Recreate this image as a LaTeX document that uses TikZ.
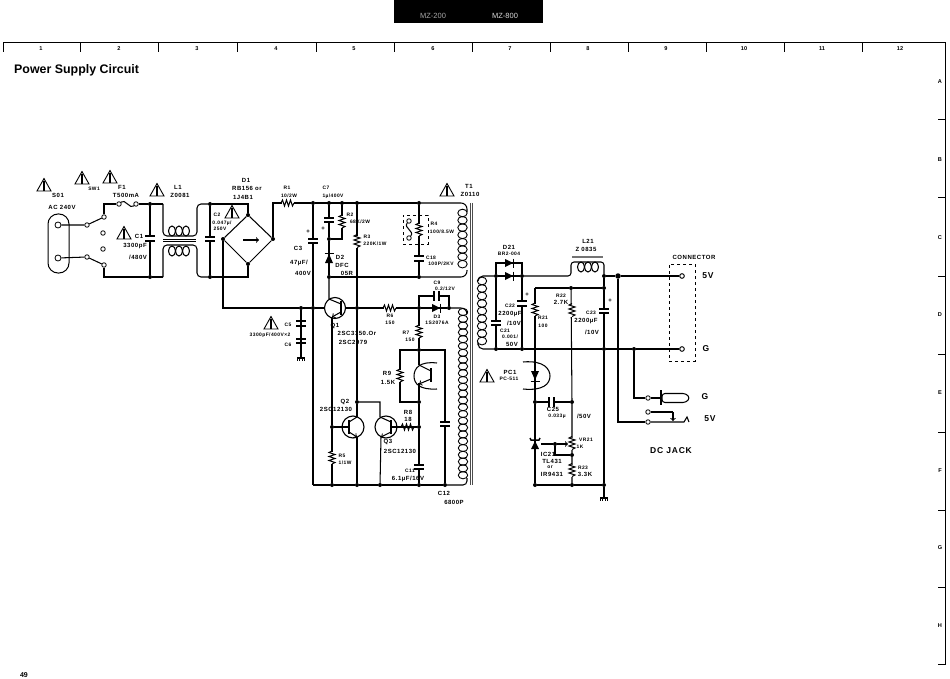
\documentclass[tikz,border=0pt]{standalone}
\usepackage{fontspec}
\setmainfont{Liberation Sans}
\newfontfamily\widefont[LetterSpace=9]{Liberation Sans}
\usetikzlibrary{arrows, shapes.geometric}

\tikzset{
  wire/.style = {line width=1.05pt},
  jdot/.style = {circle, fill, inner sep=0, minimum size=4pt},
  bigdot/.style = {circle, fill, inner sep=0, minimum size=5.5pt},
  term/.style = {circle, draw, fill=white, line width=0.8pt, inner sep=0, minimum size=4.5pt},
  lab/.style = {inner sep=0, font=\fontsize{6}{7}\widefont\bfseries},
  labs/.style = {inner sep=0, font=\fontsize{4.9}{5}\widefont\bfseries},
  labb/.style = {inner sep=0, font=\fontsize{8.5}{9}\widefont\bfseries},
  grid/.style = {inner sep=0, font=\fontsize{5.6}{6}\selectfont\bfseries},
  pics/resv/.style = {code={
    \fill [white] (-2, -6) rectangle (2, 6);
    \draw [wire] (0, -7) -- (-3, -5.5) -- (3, -3.5) -- (-3, -1.5) -- (3, 0.5) -- (-3, 2.5) -- (3, 4.5) -- (0, 6);
  }},
  pics/resh/.style = {code={
    \fill [white] (-6, -2) rectangle (6, 2);
    \draw [wire] (-7, 0) -- (-5.5, -3) -- (-3.5, 3) -- (-1.5, -3) -- (0.5, 3) -- (2.5, -3) -- (4.5, 3) -- (6, 0);
  }},
  pics/capv/.style = {code={
    \fill [white] (-5, -1.5) rectangle (5, 1.5);
    \draw [line width=1.9pt] (-5, -2.2) -- (5, -2.2);
    \draw [line width=1.9pt] (-5, 2.2) -- (5, 2.2);
  }},
  pics/caph/.style = {code={
    \fill [white] (-1.5, -5) rectangle (1.5, 5);
    \draw [line width=1.9pt] (-2.2, -5) -- (-2.2, 5);
    \draw [line width=1.9pt] (2.2, -5) -- (2.2, 5);
  }},
  pics/dioder/.style = {code={
    \fill (-5, -4) -- (3, 0) -- (-5, 4) -- cycle;
    \draw [line width=1.5pt] (3.5, -4.5) -- (3.5, 4.5);
  }},
  pics/diodeu/.style = {code={
    \fill (-4, 5) -- (0, -4) -- (4, 5) -- cycle;
    \draw [line width=1.5pt] (-4.5, -4.5) -- (4.5, -4.5);
  }},
  pics/warn/.style = {code={
    \draw [line width=0.9pt, line join=miter] (-7, 6) -- (0, -6.5) -- (7, 6) -- cycle;
    \draw [line width=1.2pt] (0, -4) -- (0, 6);
  }},
  pics/gnd/.style = {code={
    \draw [line width=1.3pt] (-4, 0) -- (4, 0);
    \foreach \gx in {-3.5, -1.2, 1.2, 3.5}
      \draw [line width=0.7pt] (\gx, 0) -- (\gx, 2.5);
  }},
}

\begin{document}
\begin{tikzpicture}[x=1pt, y=-1pt]
  \useasboundingbox (0, 0) rectangle (950, 679);

  % header and frame
  \fill (394, 0) rectangle (543, 23);
  \node [grid, font=\fontsize{7.5}{8}\selectfont, text=white!65!black] (model200) at (433, 16) {MZ-200};
  \node [grid, font=\fontsize{7.5}{8}\selectfont, text=white!85!black] (model800) at (505, 16) {MZ-800};
  \draw [line width=1pt] (3, 52) -- (3, 43) -- (945, 43) -- (945, 664) -- (938, 664);
  \foreach \x in {80, 158, 237, 316, 394, 472, 550, 628, 706, 784, 862}
    \draw [line width=1pt] (\x, 43) -- (\x, 52);
  \foreach \y in {120, 198, 276, 354, 432, 510, 587}
    \draw [line width=1pt] (938, \y) -- (945, \y);
  \foreach \n/\x in {1/41, 2/119, 3/197, 4/276, 5/354, 6/433, 7/510, 8/588, 9/666, 10/744, 11/822, 12/900}
    \node [grid] (col\n) at (\x, 48.5) {\n};
  \foreach \n/\y in {A/82, B/160, C/238, D/315, E/393, F/471, G/548, H/626}
    \node [grid] (row\n) at (940, \y) {\n};
  \node [inner sep=0, anchor=west, font=\fontsize{12.4}{14}\selectfont\bfseries] (title) at (14, 70) {Power Supply Circuit};
  \node [grid, font=\fontsize{7}{8}\selectfont\bfseries] (pageno) at (24, 675) {49};

  % junctions
  \foreach \n/\x/\y in {c1a/150/204, c1b/150/277, c2a/210/204, c2b/210/277, brt/248/215, brb/248/264, brl/223/239, brr/273/239,
      ra/313/203, rb/329/203, rc/342/203, rd/357/203, re/419/203, ce/329/239, mb/329/277, mr/419/277,
      ga/301/308, gb/313/308, gc/357/308, gd/419/308, ge/449/308, ha/419/350, hb/419/402, hc/357/402, hd/419/427, he/332/427,
      ba/332/485, bb/357/485, bc/380/485, bd/419/485, bf/445/485,
      sa/496/276, sb/522/276, sc/604/276, ta/496/349, tb/522/349, tc/604/349, td/634/349,
      ua/571/288, ub/604/288, va/535/402, vb/572/402, vc/555/444, vd/572/455, wa/535/485, wb/572/485, wc/604/485}
    \node [jdot] (\n) at (\x, \y) {};
  \node [bigdot] (se) at (618, 276) {};

  % terminals
  \foreach \n/\x/\y in {swa/87/225, swb/104/217, swc/103/233, swd/103/249, swe/104/265, swf/87/257,
      fua/119/204, fub/136/204, tha/409/221, thb/409/238, cna/682/276, cnb/682/349, jka/648/398, jkb/648/412, jkc/648/422}
    \node [term] (\n) at (\x, \y) {};

  % corners
  \coordinate (fcor) at (104, 204);
  \coordinate (lcor) at (104, 277);
  \coordinate (c1d) at (163, 204);
  \coordinate (c1e) at (163, 277);
  \coordinate (lua) at (163, 236);
  \coordinate (lub) at (197, 236);
  \coordinate (lua2) at (197, 204);
  \coordinate (lla) at (163, 245);
  \coordinate (llb) at (197, 245);
  \coordinate (lla2) at (197, 277);
  \coordinate (r1cor) at (273, 203);
  \coordinate (brlc) at (223, 308);
  \coordinate (recor) at (342, 239);
  \coordinate (q1c) at (329, 299);
  \coordinate (q1e) at (332, 317);
  \coordinate (botl) at (313, 485);
  \coordinate (c9l) at (419, 296);
  \coordinate (c9r) at (449, 296);

  % primary side
  \node [draw, line width=1pt, rounded corners=10pt, minimum width=21pt, minimum height=59pt, inner sep=0] (socket) at (58.5, 243.5) {};
  \node [term, minimum size=6pt] (pina) at (58, 225) {};
  \node [term, minimum size=6pt] (pinb) at (58, 258) {};
  \draw [wire] (pina) -- (swa) -- (swb);
  \draw [wire] (pinb) -- (swf) -- (swe);
  \draw [wire] (swb) -- (fcor) -- (fua);
  \draw [wire] (swe) -- (lcor) -- (c1b);
  \draw [wire] (fua) .. controls (125, 198) and (130, 210) .. (fub);
  \draw [wire] (fub) -- (c1a) -- (c1d);
  \draw [wire] (c1a) -- (c1b) -- (c1e);
  \draw [wire, rounded corners=4pt] (c1d) -- (lua) -- (lub) -- (lua2) -- (c2a);
  \draw [wire, rounded corners=4pt] (c1e) -- (lla) -- (llb) -- (lla2) -- (c2b);
  \foreach \x in {172, 179, 186} {
    \draw [wire] (\x, 231) ellipse (3.5 and 5);
    \draw [wire] (\x, 251) ellipse (3.5 and 5);
  }
  \draw [line width=0.8pt] (163, 239.3) -- (196, 239.3);
  \draw [line width=0.8pt] (163, 241.6) -- (196, 241.6);
  \draw [wire] (c2a) -- (c2b);
  \draw [wire] (c2a) -| (brt);
  \draw [wire] (c2b) -| (brb);
  \draw [wire] (brt) -- (brr) -- (brb) -- (brl) -- (brt);
  \draw [wire, ->] (243, 240) -- (259, 240);
  \draw [wire] (brl) -- (brlc) -- (ga);
  \draw [wire] (brr) -- (r1cor) -- (ra);
  \pic at (150, 238.5) {capv};
  \pic at (210, 239) {capv};
  \pic at (288, 203) {resh};

  % primary rail and T1
  \draw [wire] (ra) -- (re);
  \draw [wire, rounded corners=6pt] (re) -- (467, 203) -- (467, 212);
  \foreach \y in {213, 220.3, ..., 270}
    \draw [line width=0.9pt] (462.5, \y) ellipse (4.7 and 3.8);
  \foreach \x in {470.4, 472.6}
    \draw [line width=0.9pt, black!70] (\x, 203) -- (\x, 485);
  \draw [wire] (ra) -- (gb) -- (botl);
  \draw [wire] (rb) -- (ce) -- (mb);
  \draw [wire] (rc) -- (recor) -- (ce);
  \draw [wire] (rd) -- (gc) -- (hc) -- (357, 417);
  \draw [wire] (mb) -- (mr);
  \draw [wire, rounded corners=6pt] (mr) -- (467, 277) -- (467, 270);
  \draw [wire] (re) -- (mr);
  \pic at (329, 220) {capv};
  \node [inner sep=0, font=\bfseries\fontsize{6}{6}\selectfont] (plusa) at (323, 229) {+};
  \pic at (342, 222) {resv};
  \pic at (329, 258) {diodeu};
  \pic at (357, 241.5) {resv};
  \pic at (313, 241) {capv};
  \node [inner sep=0, font=\bfseries\fontsize{6}{6}\selectfont] (plusb) at (308, 232) {+};
  \node [draw, dashed, line width=0.8pt, minimum width=25pt, minimum height=29pt, inner sep=0] (relbox) at (415.5, 229.5) {};
  \draw [wire] (tha) .. controls (403, 228) and (415, 231) .. (thb);
  \pic at (419, 230) {resv};
  \pic at (419, 258.5) {capv};

  % Q1 row
  \draw [wire] (ga) -- (gb);
  \node [circle, draw, line width=1.1pt, minimum size=21pt, inner sep=0] (Qa) at (335, 308) {};
  \draw [wire] (gb) -- (Qa.west);
  \draw [wire] (Qa.east) -- (gc) -- (gd) -- (ge);
  \draw [wire, rounded corners=6pt] (ge) -- (467, 308) -- (467, 312);
  \draw [line width=2pt] (341, 301) -- (341, 315);
  \draw [wire] (mb) -- (q1c) -- (341, 304);
  \draw [wire, ->] (341, 312) -- (q1e);
  \draw [wire] (q1e) -- (he) -- (ba);
  \draw [wire] (gd) -- (c9l) -- (c9r) -- (ge);
  \pic at (436.5, 296) {caph};
  \pic at (437, 308) {dioder};
  \pic at (390, 308) {resh};
  \pic at (301, 323.5) {capv};
  \pic at (301, 341) {capv};
  \draw [wire] (ga) -- (301, 358);
  \pic at (301, 358) {gnd};

  % feedback part
  \draw [wire] (gd) -- (ha) -- (445, 350) -- (bf);
  \draw [wire] (ha) -- (400, 350) -- (400, 402) -- (hb);
  \draw [wire] (ha) -- (419, 365);
  \draw [wire] (hb) -- (hd) -- (bd);
  \draw [wire] (hb) -- (419, 383);
  \draw [line width=2pt] (431, 368) -- (431, 382);
  \draw [wire] (419, 365) -- (431, 371);
  \draw [wire, ->] (431, 379) -- (419, 384);
  \draw [wire] (437, 363) .. controls (420, 361) and (414, 368) .. (414, 376) .. controls (414, 384) and (420, 390) .. (437, 389);
  \pic at (419, 332) {resv};
  \pic at (400, 376) {resv};
  \pic at (445, 424) {capv};
  \pic at (419, 467) {capv};
  \pic at (408, 427) {resh};
  \pic at (332, 458) {resv};

  % Q2 Q3
  \node [circle, draw, line width=1.1pt, minimum size=22pt, inner sep=0] (Qb) at (353, 427) {};
  \node [circle, draw, line width=1.1pt, minimum size=22pt, inner sep=0] (Qc) at (386, 427) {};
  \draw [wire] (he) -- (349, 427);
  \draw [line width=2pt] (349, 420) -- (349, 434);
  \draw [wire] (349, 422) -- (357, 417);
  \draw [wire, ->] (349, 432) -- (357, 437);
  \draw [wire] (357, 437) -- (bb);
  \draw [wire] (hd) -- (391, 427);
  \draw [line width=2pt] (391, 420) -- (391, 434);
  \draw [wire] (hc) -- (380, 402) -- (380, 417) -- (391, 422);
  \draw [wire, ->] (391, 432) -- (381, 437);
  \draw [wire] (381, 437) -- (bc);
  \draw [wire] (botl) -- (ba) -- (bb) -- (bc) -- (bd) -- (bf);
  \draw [wire, rounded corners=4pt] (bf) -- (467, 485) -- (467, 478);
  \foreach \y in {312, 318.8, ..., 480}
    \draw [line width=0.9pt] (463, \y) ellipse (4.7 and 3.6);

  % secondary side
  \foreach \y in {281, 288.5, ..., 345}
    \draw [line width=0.9pt] (482, \y) ellipse (4.7 and 3.9);
  \draw [wire, rounded corners=5pt] (sa) -- (478, 276) -- (478, 281);
  \draw [wire, rounded corners=5pt] (ta) -- (478, 349) -- (478, 345);
  \draw [wire] (sa) -- (496, 263) -- (522, 263) -- (sb);
  \draw [wire] (sa) -- (sb);
  \draw [wire] (sa) -- (ta);
  \draw [wire] (sb) -- (tb);
  \pic at (510, 263) {dioder};
  \pic at (510, 276) {dioder};
  \pic at (522, 303.5) {capv};
  \pic at (496, 323) {capv};
  \draw [wire, rounded corners=3pt] (sb) -- (571, 276) -- (571, 262) -- (604, 262) -- (sc);
  \foreach \x in {581, 588, 595}
    \draw [wire] (\x, 267) ellipse (3.5 and 5);
  \draw [line width=1.8pt, black!55] (572, 257) -- (603, 257);
  \draw [wire] (sc) -- (se) -- (cna);
  \draw [wire] (ta) -- (tb) -- (tc) -- (td) -- (cnb);
  \draw [wire] (sc) -- (ub) -- (tc) -- (wc);
  \draw [wire] (535, 288) -- (ua) -- (ub);
  \draw [wire] (535, 288) -- (va) -- (wa);
  \draw [wire] (ua) -- (vb) -- (vd) -- (wb);
  \draw [wire] (va) -- (vb);
  \draw [wire] (wa) -- (wb) -- (wc);
  \draw [wire] (wc) -- (604, 498);
  \pic at (604, 498) {gnd};
  \pic at (535, 310) {resv};
  \pic at (572, 310.5) {resv};
  \pic at (604, 311) {capv};
  \pic at (551.5, 402) {caph};
  \pic at (572, 443.5) {resv};
  \pic at (572, 470.5) {resv};
  \draw [wire, ->] (vc) -- (568, 444);
  \draw [wire] (vc) -- (541, 444);
  \draw [wire] (vc) |- (vd);

  % opto coupler and regulator
  \fill (531, 371) -- (539, 371) -- (535, 380) -- cycle;
  \draw [line width=1.5pt] (530.5, 381.5) -- (539.5, 381.5);
  \draw [wire] (523, 362) .. controls (545, 360) and (550, 370) .. (550, 376) .. controls (550, 384) and (543, 391) .. (523, 389);
  \fill (531, 449) -- (539, 449) -- (535, 441) -- cycle;
  \draw [line width=1.5pt] (530, 438) -- (531, 440) -- (539, 440) -- (540, 438);

  % output and dc jack
  \node [draw, dashed, line width=0.9pt, minimum width=26pt, minimum height=97pt, inner sep=0] (conn) at (682, 312.5) {};
  \node [term] (cna) at (682, 276) {};
  \node [term] (cnb) at (682, 349) {};
  \coordinate (jg) at (634, 398);
  \coordinate (j5) at (618, 422);
  \draw [wire] (se) -- (j5) -- (jkc);
  \draw [wire] (td) -- (jg) -- (jka);
  \draw [wire] (jka) -- (661, 398);
  \draw [wire, fill=white, rounded corners=3pt] (662, 393.5) -- (686, 393.5) -- (690, 398) -- (686, 402.5) -- (662, 402.5) -- cycle;
  \draw [line width=1.6pt] (661, 390) -- (661, 405);
  \draw [wire] (jkb) -- (673, 412);
  \draw [wire, ->] (673, 412) -- (673, 421);
  \draw [wire] (jkc) -- (684, 422) -- (687, 417) -- (689, 422);

  % warning marks
  \foreach \x/\y in {44/185, 82/178, 110/177, 157/190, 124/233, 232/212, 271/323, 447/190, 487/376}
    \pic at (\x, \y) {warn};

  % labels
  \node [lab] (tS) at (58, 195) {S01};
  \node [lab] (tAC) at (62, 207) {AC 240V};
  \node [labs] (tSW) at (94, 189) {SW1};
  \node [lab] (tF) at (122, 187) {F1};
  \node [lab] (tFb) at (126, 195) {T500mA};
  \node [lab] (tL) at (178, 187) {L1};
  \node [lab] (tLb) at (180, 195) {Z0081};
  \node [lab] (tC) at (139, 236) {C1};
  \node [lab] (tCb) at (135, 246) {3300pF};
  \node [lab] (tCc) at (138, 257) {/480V};
  \node [lab] (tD) at (246, 180) {D1};
  \node [lab] (tDb) at (247, 188) {RB156 or};
  \node [lab] (tDc) at (243, 197) {1J4B1};
  \node [labs] (tCd) at (217, 215) {C2};
  \node [labs] (tCe) at (222, 223) {0.047µ/};
  \node [labs] (tCf) at (220, 229) {250V};
  \node [labs] (tR) at (287, 188) {R1};
  \node [labs] (tRb) at (289, 196) {10/2W};
  \node [labs] (tCg) at (326, 188) {C7};
  \node [labs] (tCh) at (333, 196) {1µ/400V};
  \node [lab] (tCi) at (298, 248) {C3};
  \node [lab] (tCj) at (299, 263) {47µF/};
  \node [lab] (tCk) at (303, 273) {400V};
  \node [labs] (tRc) at (350, 215) {R2};
  \node [labs] (tRd) at (360, 222) {68K/2W};
  \node [labs] (tRe) at (367, 237) {R3};
  \node [labs] (tRf) at (375, 244) {220K/1W};
  \node [lab] (tDd) at (340, 257) {D2};
  \node [lab] (tDe) at (342, 265) {DFC};
  \node [lab] (tDf) at (347, 273) {05R};
  \node [labs] (tRg) at (434, 224) {R4};
  \node [labs] (tRh) at (442, 232) {100/8.5W};
  \node [labs] (tCl) at (431, 258) {C18};
  \node [labs] (tCm) at (441, 264) {100P/2KV};
  \node [lab] (tT) at (469, 186) {T1};
  \node [lab] (tTb) at (470, 194) {Z0110};
  \node [labs] (tCn) at (437, 283) {C9};
  \node [labs] (tCo) at (445, 289) {0.2/12V};
  \node [labs] (tRi) at (390, 316) {R6};
  \node [labs] (tRj) at (390, 323) {150};
  \node [labs] (tDg) at (437, 317) {D3};
  \node [labs] (tDh) at (437, 323) {1S2076A};
  \node [labs] (tRk) at (406, 333) {R7};
  \node [labs] (tRl) at (410, 340) {150};
  \node [lab] (tQ) at (335, 326) {Q1};
  \node [lab] (tQb) at (357, 333) {2SC3150.Or};
  \node [lab] (tQc) at (353, 342) {2SC2979};
  \node [labs] (tCp) at (288, 325) {C5};
  \node [labs] (tCq) at (270, 335) {3300pF/400V×2};
  \node [labs] (tCr) at (288, 345) {C6};
  \node [lab] (tRm) at (387, 373) {R9};
  \node [lab] (tRn) at (388, 382) {1.5K};
  \node [lab] (tQd) at (345, 402) {Q2};
  \node [lab] (tQe) at (336, 409) {2SC12130};
  \node [lab] (tQf) at (388, 442) {Q3};
  \node [lab] (tQg) at (400, 451) {2SC12130};
  \node [lab] (tRo) at (408, 412) {R8};
  \node [lab] (tRp) at (408, 419) {18};
  \node [labs] (tRq) at (342, 456) {R5};
  \node [labs] (tRr) at (345, 463) {1/1W};
  \node [labs] (tCs) at (410, 471) {C11};
  \node [lab] (tCt) at (408, 479) {6.1µF/16V};
  \node [lab] (tCu) at (444, 493) {C12};
  \node [lab] (tCv) at (454, 502) {6800P};
  \node [lab] (tDi) at (509, 247) {D21};
  \node [labs] (tDj) at (509, 254) {BR2-004};
  \node [lab] (tLc) at (588, 241) {L21};
  \node [lab] (tLd) at (586, 249) {Z 0835};
  \node [lab] (tCon) at (694, 257) {CONNECTOR};
  \node [labb] (tVa) at (708, 276) {5V};
  \node [labb] (tGa) at (706, 349) {G};
  \node [labb] (tGb) at (705, 397) {G};
  \node [labb] (tVb) at (710, 419) {5V};
  \node [labb] (tJack) at (671, 451) {DC JACK};
  \node [labs] (tCw) at (510, 306) {C22};
  \node [lab] (tCx) at (510, 314) {2200µF};
  \node [lab] (tCy) at (514, 323) {/10V};
  \node [labs] (tCz) at (505, 331) {C21};
  \node [labs] (tDa) at (510, 337) {0.001/};
  \node [lab] (tDk) at (512, 344) {50V};
  \node [labs] (tRs) at (543, 318) {R21};
  \node [labs] (tRt) at (543, 326) {100};
  \node [labs] (tRu) at (561, 296) {R22};
  \node [lab] (tRv) at (561, 302) {2.7K};
  \node [labs] (tEa) at (591, 313) {C23};
  \node [lab] (tEb) at (586, 321) {2200µF};
  \node [lab] (tEc) at (592, 332) {/10V};
  \node [inner sep=0, font=\bfseries\fontsize{6}{6}\selectfont] (plusc) at (527, 295) {+};
  \node [inner sep=0, font=\bfseries\fontsize{6}{6}\selectfont] (plusd) at (610, 301) {+};
  \node [lab] (tPa) at (510, 372) {PC1};
  \node [labs] (tPb) at (509, 379) {PC-511};
  \node [lab] (tEd) at (553, 409) {C25};
  \node [labs] (tEe) at (557, 416) {0.033µ};
  \node [lab] (tEf) at (584, 416) {/50V};
  \node [labs] (tEg) at (586, 440) {VR21};
  \node [labs] (tEh) at (580, 447) {1K};
  \node [lab] (tIa) at (548, 454) {IC21};
  \node [lab] (tIb) at (552, 461) {TL431};
  \node [labs] (tIc) at (550, 467) {or};
  \node [lab] (tId) at (552, 474) {IR9431};
  \node [labs] (tRw) at (583, 468) {R23};
  \node [lab] (tRx) at (585, 474) {3.3K};
\end{tikzpicture}
\end{document}
